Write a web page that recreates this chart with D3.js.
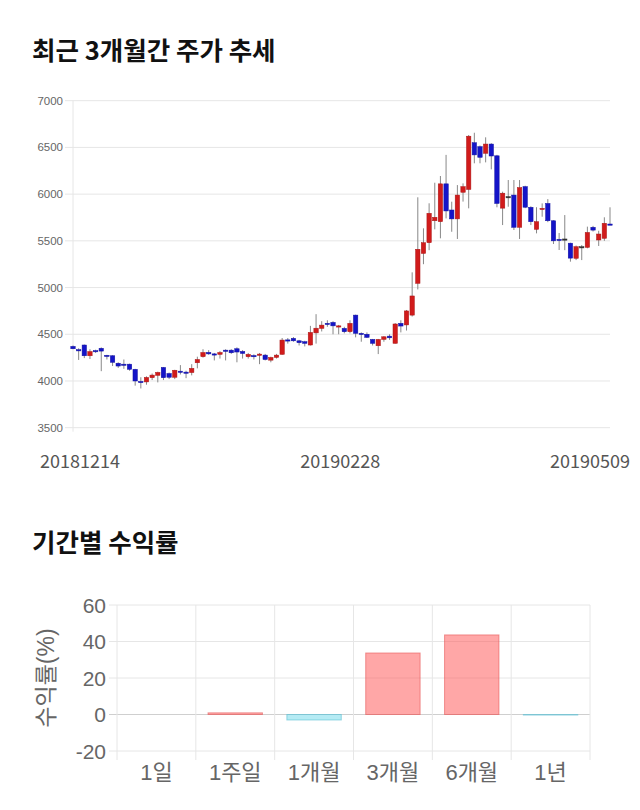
<!DOCTYPE html>
<html>
<head>
<meta charset="utf-8">
<script src="https://cdn.jsdelivr.net/npm/d3@7"></script>
<style>
  body { margin: 0; background: #fff; }
  svg { display: block; }
</style>
</head>
<body>
<svg id="chart" width="640" height="810"></svg>
<script>
// trading days shown in the candle chart
const dates = [
  '20181214','20181217','20181218','20181219','20181220','20181221','20181224','20181226','20181227','20181228',
  '20190102','20190103','20190104','20190107','20190108','20190109','20190110','20190111','20190114','20190115',
  '20190116','20190117','20190118','20190121','20190122','20190123','20190124','20190125','20190128','20190129',
  '20190130','20190131','20190201','20190207','20190208','20190211','20190212','20190213','20190214','20190215',
  '20190218','20190219','20190220','20190221','20190222','20190225','20190226','20190227','20190228','20190304',
  '20190305','20190306','20190307','20190308','20190311','20190312','20190313','20190314','20190315','20190318',
  '20190319','20190320','20190321','20190322','20190325','20190326','20190327','20190328','20190329','20190401',
  '20190402','20190403','20190404','20190405','20190408','20190409','20190410','20190411','20190412','20190415',
  '20190416','20190417','20190418','20190419','20190422','20190423','20190424','20190425','20190426','20190429',
  '20190430','20190502','20190503','20190507','20190508','20190509'
];
const open = [
  4370,4335,4385,4270,4325,4350,4275,4270,4190,4180,4180,4125,3995,3990,4035,4060,4145,4080,4040,4105,
  4095,4090,4195,4260,4306,4290,4285,4330,4330,4345,4316,4260,4272,4274,4277,4223,4252,4285,4440,4456,
  4430,4420,4385,4515,4563,4617,4627,4580,4563,4527,4705,4510,4500,4445,4377,4445,4480,4403,4617,4600,
  4705,5045,5365,5480,5715,5705,6110,5830,5735,6020,6050,6550,6508,6437,6536,6410,5850,5973,5990,5645,
  6080,5859,5623,5837,5900,5715,5516,5520,5475,5313,5437,5430,5645,5509,5527,5680
];
const high = [
  4380,4350,4390,4340,4335,4360,4280,4275,4200,4230,4185,4130,4040,4050,4080,4100,4150,4090,4120,4170,
  4110,4180,4260,4340,4330,4300,4320,4340,4340,4360,4330,4300,4285,4300,4290,4260,4290,4460,4460,4470,
  4440,4430,4590,4715,4640,4650,4640,4600,4580,4650,4710,4520,4520,4450,4450,4480,4500,4620,4650,4760,
  5163,5966,5634,5902,6122,6194,6420,5919,6097,6115,6633,6657,6520,6608,6545,6420,6026,6151,6151,6151,
  6090,5870,5860,5901,5947,5720,5584,5776,5480,5450,5455,5652,5660,5608,5752,5859
];
const low = [
  4340,4225,4245,4235,4300,4105,4230,4160,4140,4130,4110,3950,3920,3960,4010,3985,4010,4020,4020,4070,
  4030,4060,4135,4250,4280,4220,4240,4220,4290,4200,4240,4240,4230,4180,4220,4200,4240,4280,4400,4420,
  4380,4370,4380,4400,4530,4580,4500,4500,4510,4510,4467,4420,4460,4380,4288,4420,4440,4400,4520,4540,
  4690,4980,5250,5400,5623,5527,5740,5597,5520,5920,5848,6330,6330,6340,6265,5859,5669,5865,5616,5520,
  5850,5669,5580,5758,5700,5466,5402,5400,5277,5294,5294,5420,5600,5445,5500,5670
];
const close = [
  4345,4325,4270,4315,4320,4320,4270,4200,4160,4175,4125,4000,3990,4038,4063,4092,4035,4040,4115,4100,
  4090,4135,4230,4305,4290,4285,4305,4328,4302,4310,4295,4285,4268,4288,4230,4252,4277,4438,4438,4430,
  4410,4403,4520,4565,4598,4606,4590,4590,4527,4617,4510,4502,4467,4403,4445,4473,4462,4610,4588,4750,
  4910,5410,5480,5795,5752,6110,5820,5735,5990,6080,6620,6420,6394,6536,6408,5900,6010,5973,5645,6070,
  5860,5705,5705,5848,5715,5500,5509,5520,5315,5437,5437,5590,5615,5573,5688,5675
];
const priceTicks = [3500, 4000, 4500, 5000, 5500, 6000, 6500, 7000];
const dateLabels = ['20181214', '20190228', '20190509'];

// period returns (%)
const periods = ['1일', '1주일', '1개월', '3개월', '6개월', '1년'];
const returns = [0, 0.9, -3.0, 33.7, 43.6, -0.3];
const returnTicks = [-20, 0, 20, 40, 60];

const svg = d3.select('#chart');
const korean = '"Noto Sans CJK KR", "Noto Sans", sans-serif';
const latin = '"Liberation Sans", "Noto Sans CJK KR", sans-serif';

// ---- titles ----
svg.append('text').attr('x', 32).attr('y', 60)
  .attr('font-family', korean).attr('font-weight', 700).attr('font-size', 25.5)
  .attr('fill', '#111').text('최근 3개월간 주가 추세');
svg.append('text').attr('x', 32).attr('y', 552)
  .attr('font-family', korean).attr('font-weight', 700).attr('font-size', 25.5)
  .attr('fill', '#111').text('기간별 수익률');

// ---- candle chart ----
const x = d3.scalePoint().domain(dates).range([73, 610]);
const y = d3.scaleLinear().domain([3500, 7000]).range([427.7, 100.7]);

const priceG = svg.append('g');
priceG.selectAll('line.grid').data(priceTicks).enter().append('line')
  .attr('x1', 65).attr('x2', 610)
  .attr('y1', d => y(d)).attr('y2', d => y(d))
  .attr('stroke', '#e6e6e6').attr('stroke-width', 1);
priceG.append('line').attr('x1', 73).attr('x2', 73).attr('y1', y(7000)).attr('y2', y(3500) + 4)
  .attr('stroke', '#e6e6e6');
priceG.selectAll('text.ytick').data(priceTicks).enter().append('text')
  .attr('x', 63).attr('y', d => y(d) + 4)
  .attr('text-anchor', 'end').attr('font-family', latin).attr('font-size', 11.5)
  .attr('fill', '#666').text(d => d);

const candles = dates.map((d, i) => ({ date: d, o: open[i], h: high[i], l: low[i], c: close[i] }));
const bodyW = 4.4;
const colorOf = d => d.c > d.o ? '#d11b1b' : (d.c < d.o ? '#1414c8' : '#333');

priceG.selectAll('line.wick').data(candles).enter().append('line')
  .attr('x1', d => x(d.date)).attr('x2', d => x(d.date))
  .attr('y1', d => y(d.h)).attr('y2', d => y(d.l))
  .attr('stroke', '#888').attr('stroke-width', 1);
priceG.selectAll('rect.body').data(candles).enter().append('rect')
  .attr('x', d => x(d.date) - bodyW / 2)
  .attr('y', d => y(Math.max(d.o, d.c)))
  .attr('width', bodyW)
  .attr('height', d => Math.max(1.2, Math.abs(y(d.o) - y(d.c))))
  .attr('fill', colorOf)
  .attr('stroke', d => d3.color(colorOf(d)).darker(0.6)).attr('stroke-width', 0.5);

// date labels (first/last kept inside the page)
priceG.selectAll('text.xtick').data(dateLabels).enter().append('text')
  .attr('x', (d, i) => i === 0 ? x(d) - 33 : (i === dateLabels.length - 1 ? x(d) + 20 : x(d) - 4))
  .attr('y', 468)
  .attr('text-anchor', (d, i) => i === 0 ? 'start' : (i === dateLabels.length - 1 ? 'end' : 'middle'))
  .attr('font-family', korean).attr('font-size', 18).attr('fill', '#555')
  .text(d => d);

// ---- returns bar chart ----
const bx = d3.scaleBand().domain(periods).range([117, 590]);
const by = d3.scaleLinear().domain([-20, 60]).range([751, 605]);
const retG = svg.append('g');

retG.selectAll('line.hgrid').data(returnTicks).enter().append('line')
  .attr('x1', 109).attr('x2', 590)
  .attr('y1', d => by(d)).attr('y2', d => by(d))
  .attr('stroke', d => d === 0 ? '#cfcfcf' : '#e6e6e6');
const edges = periods.map(p => bx(p)).concat([bx.range()[1]]);
retG.selectAll('line.vgrid').data(edges).enter().append('line')
  .attr('x1', d => d).attr('x2', d => d)
  .attr('y1', by(60)).attr('y2', by(-20) + 9)
  .attr('stroke', '#e6e6e6');

const barW = bx.bandwidth() * 0.69;
retG.selectAll('rect.bar').data(returns).enter().append('rect')
  .attr('x', (d, i) => bx(periods[i]) + (bx.bandwidth() - barW) / 2)
  .attr('y', d => by(Math.max(0, d)))
  .attr('width', barW)
  .attr('height', d => Math.abs(by(d) - by(0)))
  .attr('fill', d => d >= 0 ? 'rgba(255,80,80,0.5)' : 'rgba(90,210,230,0.45)')
  .attr('stroke', d => d >= 0 ? 'rgba(230,90,90,0.6)' : 'rgba(90,190,210,0.6)')
  .attr('stroke-width', 1);

retG.selectAll('text.rtick').data(returnTicks).enter().append('text')
  .attr('x', 106).attr('y', d => by(d) + 7.5)
  .attr('text-anchor', 'end').attr('font-family', latin).attr('font-size', 21)
  .attr('fill', '#666').text(d => d);
retG.selectAll('text.ptick').data(periods).enter().append('text')
  .attr('x', d => bx(d) + bx.bandwidth() / 2).attr('y', 780)
  .attr('text-anchor', 'middle').attr('font-family', latin).attr('font-size', 22)
  .attr('fill', '#666').text(d => d);
retG.append('text')
  .attr('transform', 'translate(54,678) rotate(-90)')
  .attr('text-anchor', 'middle').attr('font-family', latin).attr('font-size', 23)
  .attr('fill', '#666').text('수익률(%)');
</script>
</body>
</html>
